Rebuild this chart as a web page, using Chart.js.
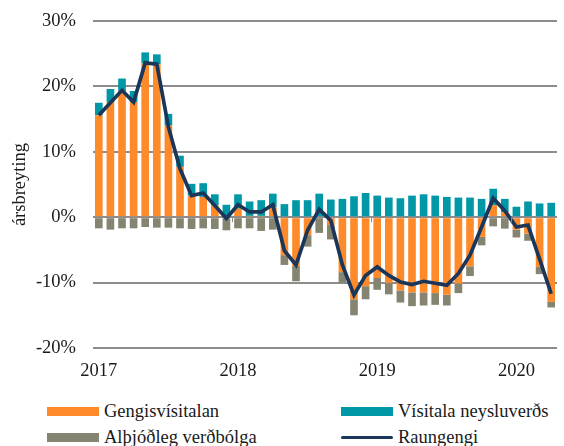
<!DOCTYPE html>
<html>
<head>
<meta charset="utf-8">
<script src="https://cdn.jsdelivr.net/npm/chart.js@4/dist/chart.umd.min.js"></script>
<style>
  html, body { margin: 0; padding: 0; background: #fff; }
  #wrap { position: relative; width: 564px; height: 446px; overflow: hidden; }
  #c { position: absolute; left: 0; top: 0; }
  .lg { position: absolute; font-family: "Liberation Serif", serif; font-size: 18.5px; color: #1a1a1a; white-space: nowrap; line-height: 20px; }
  .sw { position: absolute; }
</style>
</head>
<body>
<div id="wrap">
  <canvas id="c" width="564" height="390"></canvas>
  <div class="sw" style="left:47px;top:407px;width:52px;height:9px;background:#FF8A2A"></div>
  <div class="lg" style="left:104px;top:401px">Gengisvísitalan</div>
  <div class="sw" style="left:341px;top:407px;width:52px;height:9px;background:#0098A6"></div>
  <div class="lg" style="left:398px;top:401px">Vísitala neysluverðs</div>
  <div class="sw" style="left:47px;top:433px;width:52px;height:9px;background:#848470"></div>
  <div class="lg" style="left:104px;top:427px">Alþjóðleg verðbólga</div>
  <div class="sw" style="left:341px;top:436px;width:52px;height:3px;background:#1B3658;border-radius:2px"></div>
  <div class="lg" style="left:398px;top:427px">Raungengi</div>
</div>
<script>
// Monthly categories, Jan 2017 - Apr 2020
const categories = [
  '2017-01','2017-02','2017-03','2017-04','2017-05','2017-06','2017-07','2017-08','2017-09','2017-10','2017-11','2017-12',
  '2018-01','2018-02','2018-03','2018-04','2018-05','2018-06','2018-07','2018-08','2018-09','2018-10','2018-11','2018-12',
  '2019-01','2019-02','2019-03','2019-04','2019-05','2019-06','2019-07','2019-08','2019-09','2019-10','2019-11','2019-12',
  '2020-01','2020-02','2020-03','2020-04'
];
// Gengisvísitalan (exchange rate contribution, %)
const gengisvisitalan = [
  15.6, 17.6, 19.3, 17.6, 23.5, 23.4, 14.0, 7.7, 3.3, 3.1, 1.8, 0.0,
  1.3, 0.2, 0.2, 1.5, -5.8, -7.45, -2.75, 0.0, -1.2, -8.4, -12.55, -10.55,
  -9.3, -10.05, -11.2, -11.5, -11.5, -11.6, -11.85, -10.15, -7.5, -3.0, 1.85, 0.8,
  -1.9, -2.5, -7.6, -12.95
];
// Vísitala neysluverðs (domestic CPI, %)
const visitalaNeysluverds = [
  1.9, 2.0, 1.9, 1.7, 1.7, 1.5, 1.8, 1.7, 1.8, 2.1, 1.7, 1.9,
  2.2, 2.2, 2.4, 2.1, 2.0, 2.6, 2.6, 3.6, 2.7, 2.8, 3.2, 3.7,
  3.3, 3.0, 2.9, 3.3, 3.5, 3.3, 3.1, 3.0, 3.0, 2.8, 2.5, 2.0,
  1.6, 2.4, 2.1, 2.2
];
// Alþjóðleg verðbólga (foreign inflation, %)
const althjodlegVerdbolga = [
  -1.7, -1.9, -1.7, -1.7, -1.5, -1.6, -1.6, -1.7, -1.8, -1.7, -1.8, -2.0,
  -1.7, -1.7, -2.1, -1.9, -1.5, -2.35, -1.75, -2.4, -2.2, -1.6, -2.45, -2.0,
  -1.8, -1.75, -1.85, -2.1, -2.0, -1.8, -1.65, -1.45, -1.5, -1.3, -1.4, -1.75,
  -1.2, -1.1, -1.1, -0.85
];
// Raungengi (real exchange rate, %)
const raungengi = [
  15.6, 17.5, 19.4, 17.6, 23.6, 23.4, 13.8, 7.4, 3.3, 3.7, 1.8, -0.2,
  1.9, 0.8, 0.8, 1.9, -5.1, -7.3, -2.0, 1.2, -0.5, -7.3, -11.9, -8.9,
  -7.6, -8.9, -9.9, -10.3, -9.8, -10.1, -10.4, -8.6, -5.8, -1.5, 2.9, 1.0,
  -1.5, -1.2, -6.4, -11.7
];
const yTicks = [-20, -10, 0, 10, 20, 30];

const FONT = '"Liberation Serif", serif';

const zeroTicks = {
  id: 'zeroTicks',
  afterDatasetsDraw(chart) {
    const x = chart.scales.x, y = chart.scales.y, ctx = chart.ctx;
    const y0 = y.getPixelForValue(0);
    ctx.save();
    ctx.strokeStyle = '#8c8c8c';
    ctx.lineWidth = 1;
    categories.forEach((c, i) => {
      if (i > 0 && c.endsWith('-01')) {
        const px = Math.round((x.getPixelForValue(i - 1) + x.getPixelForValue(i)) / 2) + 0.5;
        ctx.beginPath(); ctx.moveTo(px, y0); ctx.lineTo(px, y0 + 5); ctx.stroke();
      }
    });
    ctx.restore();
  }
};

new Chart(document.getElementById('c'), {
  data: {
    labels: categories,
    datasets: [
      { type: 'line', label: 'Raungengi', data: raungengi, borderColor: '#1B3658', borderWidth: 3.7,
        pointRadius: 0, tension: 0, order: 0, stack: 'line', borderJoinStyle: 'miter' },
      { type: 'bar', label: 'Gengisvísitalan', data: gengisvisitalan, backgroundColor: '#FF8A2A', stack: 's', order: 1 },
      { type: 'bar', label: 'Vísitala neysluverðs', data: visitalaNeysluverds, backgroundColor: '#0098A6', stack: 's', order: 1 },
      { type: 'bar', label: 'Alþjóðleg verðbólga', data: althjodlegVerdbolga, backgroundColor: '#848470', stack: 's', order: 1 }
    ]
  },
  options: {
    responsive: false,
    animation: false,
    devicePixelRatio: 1,
    layout: { padding: { left: 0, right: 7, top: 21, bottom: 0 } },
    datasets: { bar: { categoryPercentage: 1, barPercentage: 0.66 } },
    plugins: { legend: { display: false }, tooltip: { enabled: false } },
    scales: {
      x: {
        stacked: true,
        offset: true,
        grid: { display: false, drawTicks: false },
        border: { display: false },
        ticks: {
          autoSkip: false, maxRotation: 0, padding: 12,
          color: '#1a1a1a', font: { family: FONT, size: 18.5 },
          callback: (v, i) => categories[i].endsWith('-01') ? categories[i].slice(0, 4) : ''
        },
        afterFit: (s) => { s.height = 42; s.paddingLeft = 0; s.paddingRight = 0; }
      },
      y: {
        stacked: true,
        min: -20, max: 30,
        afterBuildTicks: (s) => { s.ticks = yTicks.map(v => ({ value: v })); },
        grid: { color: '#8c8c8c', lineWidth: 2, drawTicks: false },
        border: { display: false },
        ticks: {
          padding: 17, color: '#1a1a1a', font: { family: FONT, size: 18.5 },
          callback: (v) => v + '%'
        },
        title: { display: true, text: 'ársbreyting', color: '#1a1a1a', font: { family: FONT, size: 18.5 }, padding: { top: 9, bottom: 0 } },
        afterFit: (s) => { s.width = 93; s.paddingTop = 0; s.paddingBottom = 0; }
      }
    }
  },
  plugins: [zeroTicks]
});
</script>
</body>
</html>
